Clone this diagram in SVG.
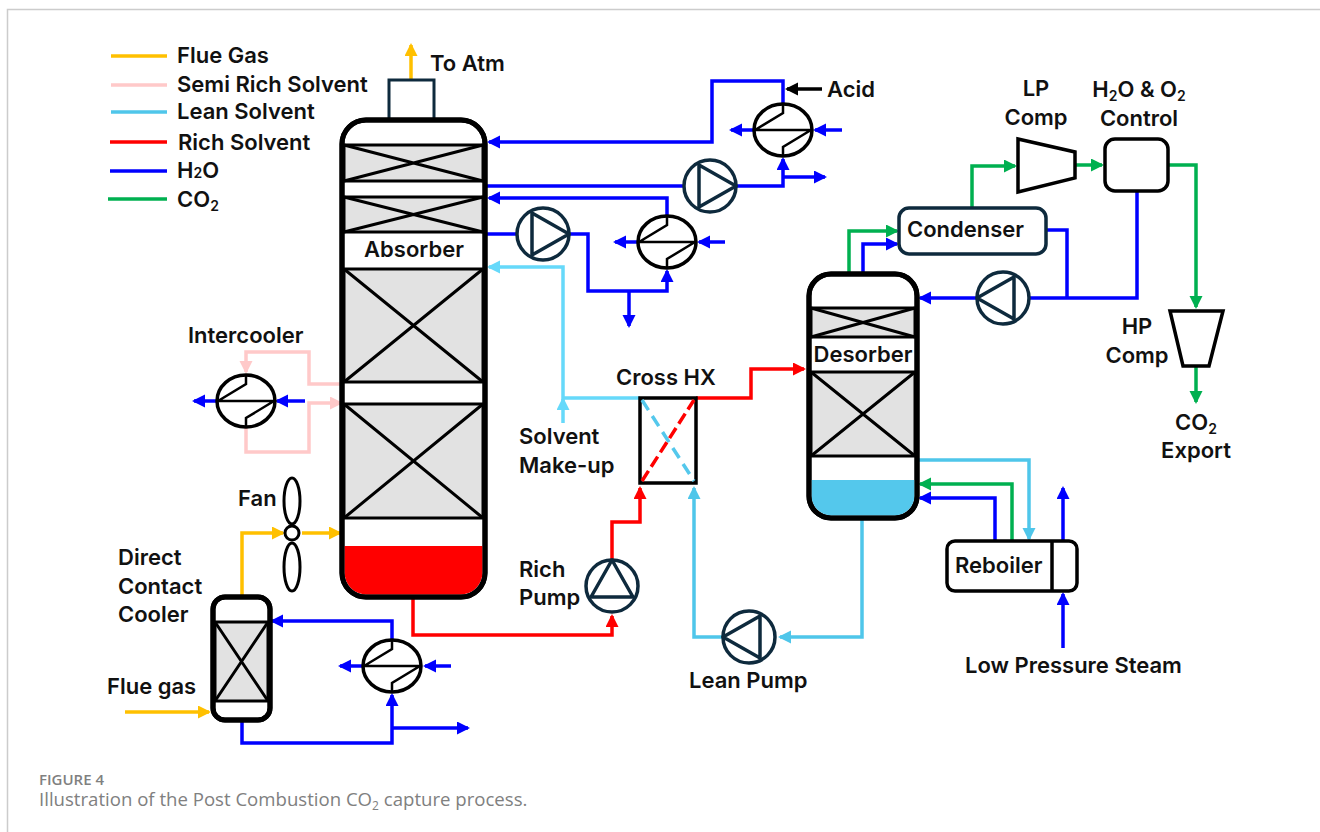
<svg xmlns="http://www.w3.org/2000/svg" xmlns:xlink="http://www.w3.org/1999/xlink" width="1320" height="832" viewBox="0 0 1320 832">
<style>
.t{font-family:Inter,"Liberation Sans",sans-serif;font-weight:600;font-size:22px;fill:#111}
.f{fill:none;stroke-width:3.5;stroke-linejoin:miter}
.fg{stroke:#ffc000}.pk{stroke:#ffc9c9}.ln{stroke:#4fc6ea}.lt{stroke:#66d9fa}.rd{stroke:#ff0000}.bl{stroke:#0000ff}.gr{stroke:#00b050}.bk{stroke:#000}
.v{fill:#fff;stroke:#000;stroke-width:5}
.pack{fill:#e2e2e2;stroke:#000;stroke-width:3}
.x{stroke:#000;stroke-width:3;fill:none}
.nv{fill:#fff;stroke:#0e2a3d;stroke-width:3.5;stroke-linejoin:round}
.b3{fill:#fff;stroke:#000;stroke-width:3.5}
</style>
<defs>
<marker id="afg" markerUnits="userSpaceOnUse" markerWidth="14" markerHeight="14" refX="11" refY="6.500" orient="auto"><path d="M0 0L13 6.500L0 13Z" fill="#ffc000"/></marker>
<marker id="apk" markerUnits="userSpaceOnUse" markerWidth="14" markerHeight="14" refX="11" refY="6.500" orient="auto"><path d="M0 0L13 6.500L0 13Z" fill="#ffc9c9"/></marker>
<marker id="aln" markerUnits="userSpaceOnUse" markerWidth="14" markerHeight="14" refX="11" refY="6.500" orient="auto"><path d="M0 0L13 6.500L0 13Z" fill="#4fc6ea"/></marker>
<marker id="alt" markerUnits="userSpaceOnUse" markerWidth="14" markerHeight="14" refX="11" refY="6.500" orient="auto"><path d="M0 0L13 6.500L0 13Z" fill="#66d9fa"/></marker>
<marker id="ard" markerUnits="userSpaceOnUse" markerWidth="14" markerHeight="14" refX="11" refY="6.500" orient="auto"><path d="M0 0L13 6.500L0 13Z" fill="#ff0000"/></marker>
<marker id="abl" markerUnits="userSpaceOnUse" markerWidth="14" markerHeight="14" refX="11" refY="6.500" orient="auto"><path d="M0 0L13 6.500L0 13Z" fill="#0000ff"/></marker>
<marker id="agr" markerUnits="userSpaceOnUse" markerWidth="14" markerHeight="14" refX="11" refY="6.500" orient="auto"><path d="M0 0L13 6.500L0 13Z" fill="#00b050"/></marker>
<marker id="abk" markerUnits="userSpaceOnUse" markerWidth="14" markerHeight="14" refX="11" refY="6.500" orient="auto"><path d="M0 0L13 6.500L0 13Z" fill="#000"/></marker>
<g id="hx"><ellipse rx="29" ry="26" fill="#fff" stroke="#000" stroke-width="3.500"/><path d="M-28 0H28M0 -25V-17L-28 0M0 25V17L28 0" fill="none" stroke="#000" stroke-width="2.500"/></g>
<g id="pump"><circle r="26" class="nv"/><path d="M-11 -21V21L26 0Z" class="nv" style="fill:none"/></g>
</defs>
<rect width="1320" height="832" fill="#fff"/>
<path d="M7.500 832V9.500H1320" fill="none" stroke="#ccc" stroke-width="1.500"/>

<g id="connectors">
<path class="f fg" d="M411 80V45" marker-end="url(#afg)"/>
<path class="f fg" d="M242 597V533H283" marker-end="url(#afg)"/>
<path class="f fg" d="M302 533H340" marker-end="url(#afg)"/>
<path class="f fg" d="M125 712H209" marker-end="url(#afg)"/>
<path class="f bl" d="M783 104V81H712V142H489" marker-end="url(#abl)"/>
<path class="f bk" d="M822 89H787" marker-end="url(#abk)"/>
<path class="f bl" d="M842 130H815" marker-end="url(#abl)"/>
<path class="f bl" d="M754 130H731" marker-end="url(#abl)"/>
<path class="f bl" d="M486 186H684"/>
<path class="f bl" d="M737 186H783V159" marker-end="url(#abl)"/>
<path class="f bl" d="M783 177H825" marker-end="url(#abl)"/>
<path class="f bl" d="M667 216V198H489" marker-end="url(#abl)"/>
<path class="f bl" d="M725 242H699" marker-end="url(#abl)"/>
<path class="f bl" d="M638 242H615" marker-end="url(#abl)"/>
<path class="f bl" d="M486 234H517"/>
<path class="f bl" d="M570 234H588V291H667V271" marker-end="url(#abl)"/>
<path class="f bl" d="M629 291V326" marker-end="url(#abl)"/>
<path class="f lt" d="M640 398H563V267H489" marker-end="url(#alt)"/>
<path class="f lt" d="M563 423V399" marker-end="url(#alt)"/>
<path class="f rd" d="M696 398H751V369H804" marker-end="url(#ard)"/>
<path class="f rd" d="M413 598V635H612V616" marker-end="url(#ard)"/>
<path class="f rd" d="M612 560V522H640V488" marker-end="url(#ard)"/>
<path class="f ln" d="M862 519V637H780" marker-end="url(#aln)"/>
<path class="f ln" d="M723 637H694V488" marker-end="url(#aln)"/>
<path class="f gr" d="M849 274V231H897" marker-end="url(#agr)"/>
<path class="f bl" d="M863 274V244H897" marker-end="url(#abl)"/>
<path class="f gr" d="M972 208V166H1015" marker-end="url(#agr)"/>
<path class="f gr" d="M1075 165H1102" marker-end="url(#agr)"/>
<path class="f gr" d="M1168 165H1196V307" marker-end="url(#agr)"/>
<path class="f gr" d="M1196 366V402" marker-end="url(#agr)"/>
<path class="f bl" d="M1046 230H1067V298"/>
<path class="f bl" d="M1137 191V298H1029"/>
<path class="f bl" d="M977 298H920" marker-end="url(#abl)"/>
<path class="f ln" d="M917 460H1029V539" marker-end="url(#aln)"/>
<path class="f gr" d="M1012 541V484H920" marker-end="url(#agr)"/>
<path class="f bl" d="M995 541V498H920" marker-end="url(#abl)"/>
<path class="f bl" d="M1063 541V488" marker-end="url(#abl)"/>
<path class="f bl" d="M1063 648V594" marker-end="url(#abl)"/>
<path class="f pk" d="M343 384H309V352H246V372" marker-end="url(#apk)"/>
<path class="f pk" d="M246 428V452H309V403H341" marker-end="url(#apk)"/>
<path class="f bl" d="M305 401H277" marker-end="url(#abl)"/>
<path class="f bl" d="M217 401H194" marker-end="url(#abl)"/>
<path class="f bl" d="M392 640V621H272" marker-end="url(#abl)"/>
<path class="f bl" d="M242 720V743H392V695" marker-end="url(#abl)"/>
<path class="f bl" d="M392 728H468" marker-end="url(#abl)"/>
<path class="f bl" d="M451 666H425" marker-end="url(#abl)"/>
<path class="f bl" d="M363 666H340" marker-end="url(#abl)"/>
</g>

<g id="legend">
<path class="f fg" d="M111 56H167"/><path class="f pk" d="M111 85H167"/><path class="f ln" d="M111 112H167"/><path class="f rd" d="M110 142H167"/><path class="f bl" d="M110 171H167"/><path class="f gr" d="M108 199H167"/>
<text class="t" x="177" y="63">Flue Gas</text>
<text class="t" x="177" y="92">Semi Rich Solvent</text>
<text class="t" x="177" y="119">Lean Solvent</text>
<text class="t" x="178" y="150">Rich Solvent</text>
<text class="t" x="177" y="178">H<tspan font-size="14">2</tspan>O</text>
<text class="t" x="177" y="207">CO<tspan font-size="14" dy="4">2</tspan></text>
</g>

<g id="absorber">
<rect x="389" y="80" width="45" height="40" fill="#fff" stroke="#0e2a3d" stroke-width="3"/>
<rect class="v" x="342" y="120" width="143" height="477" rx="24"/>
<path d="M344.500 546H482.500V572A22 22 0 0 1 460.500 594.500H366.500A22 22 0 0 1 344.500 572Z" fill="#ff0000"/>
<rect class="pack" x="344" y="145" width="139" height="36"/><path class="x" d="M344 145L483 181M483 145L344 181"/>
<rect class="pack" x="344" y="197" width="139" height="35"/><path class="x" d="M344 197L483 232M483 197L344 232"/>
<rect class="pack" x="344" y="269" width="139" height="113"/><path class="x" d="M344 269L483 382M483 269L344 382"/>
<rect class="pack" x="344" y="404" width="139" height="114"/><path class="x" d="M344 404L483 518M483 404L344 518"/>
<rect x="342" y="120" width="143" height="477" rx="24" fill="none" stroke="#000" stroke-width="5"/>
<text class="t" x="414" y="257" text-anchor="middle">Absorber</text>
<text class="t" x="430" y="71">To Atm</text>
</g>

<g id="desorber">
<rect class="v" x="809" y="274" width="108" height="244" rx="22"/>
<path d="M811.500 480H914.500V496A20 20 0 0 1 894.500 515.500H831.500A20 20 0 0 1 811.500 496Z" fill="#54c8ec"/>
<rect class="pack" x="811" y="308" width="104" height="29"/><path class="x" d="M811 308L915 337M915 308L811 337"/>
<rect class="pack" x="811" y="372" width="104" height="84"/><path class="x" d="M811 372L915 456M915 372L811 456"/>
<rect x="809" y="274" width="108" height="244" rx="22" fill="none" stroke="#000" stroke-width="5"/>
<text class="t" x="863" y="362" text-anchor="middle">Desorber</text>
</g>

<g id="dcc">
<rect class="v" x="213" y="597" width="57" height="123" rx="12"/>
<rect class="pack" x="215" y="622" width="53" height="79"/><path class="x" d="M215 622L268 701M268 622L215 701"/>
<rect x="213" y="597" width="57" height="123" rx="12" fill="none" stroke="#000" stroke-width="5"/>
<text class="t" x="118" y="565">Direct</text><text class="t" x="118" y="594">Contact</text><text class="t" x="118" y="622">Cooler</text>
<text class="t" x="107" y="694">Flue gas</text>
</g>

<g id="fan" fill="#fff" stroke="#000" stroke-width="3">
<ellipse cx="292" cy="501" rx="8" ry="23"/><ellipse cx="292" cy="567" rx="8" ry="24"/><circle cx="292" cy="533" r="7"/>
<text class="t" x="238" y="506" stroke="none">Fan</text>
</g>

<g id="hx-acid"><use xlink:href="#hx" href="#hx" x="783" y="130"/></g>
<g id="hx-wash"><use xlink:href="#hx" href="#hx" x="667" y="242"/></g>
<g id="hx-intercooler"><use xlink:href="#hx" href="#hx" x="246" y="401"/><text class="t" x="188" y="343">Intercooler</text></g>
<g id="hx-dcc"><use xlink:href="#hx" href="#hx" x="392" y="666"/></g>
<text class="t" x="827" y="97">Acid</text>

<g id="pump-1"><use xlink:href="#pump" href="#pump" x="710" y="186"/></g>
<g id="pump-2"><use xlink:href="#pump" href="#pump" x="543" y="234"/></g>
<g id="pump-rich"><use xlink:href="#pump" href="#pump" transform="translate(612 586) rotate(-90)"/><text class="t" x="519" y="577">Rich</text><text class="t" x="519" y="605">Pump</text></g>
<g id="pump-lean"><use xlink:href="#pump" href="#pump" transform="translate(749 637) rotate(180)"/><text class="t" x="689" y="688">Lean Pump</text></g>
<g id="pump-cond"><use xlink:href="#pump" href="#pump" transform="translate(1003 298) rotate(180)"/></g>

<g id="cross-hx">
<rect x="640" y="398" width="56" height="85" fill="#fff" stroke="#000" stroke-width="3.500"/>
<path d="M642 400L694 481" stroke="#54c8ec" stroke-width="3.500" stroke-dasharray="12 7" fill="none"/>
<path d="M642 481L694 400" stroke="#ff0000" stroke-width="3.500" stroke-dasharray="12 5" fill="none"/>
<text class="t" x="616" y="385">Cross HX</text>
<text class="t" x="519" y="444">Solvent</text><text class="t" x="519" y="473">Make-up</text>
</g>

<g id="condenser"><rect x="899" y="208" width="147" height="46" rx="10" fill="#fff" stroke="#0e2a3d" stroke-width="3.500"/><text class="t" x="907" y="237">Condenser</text></g>
<g id="lp-comp"><path class="b3" d="M1018 139L1075 152V178L1018 192Z"/><text class="t" x="1036" y="96" text-anchor="middle">LP</text><text class="t" x="1036" y="125" text-anchor="middle">Comp</text></g>
<g id="control"><rect class="b3" x="1105" y="139" width="63" height="52" rx="10"/><text class="t" x="1139" y="97" text-anchor="middle">H<tspan font-size="14" dy="4">2</tspan><tspan dy="-4">O &amp; O</tspan><tspan font-size="14" dy="4">2</tspan></text><text class="t" x="1139" y="126" text-anchor="middle">Control</text></g>
<g id="hp-comp"><path class="b3" d="M1170 311H1223L1209 366H1183Z"/><text class="t" x="1137" y="334" text-anchor="middle">HP</text><text class="t" x="1137" y="363" text-anchor="middle">Comp</text></g>
<text class="t" x="1196" y="430" text-anchor="middle">CO<tspan font-size="14" dy="4">2</tspan></text>
<text class="t" x="1196" y="458" text-anchor="middle">Export</text>
<g id="reboiler"><rect class="b3" x="947" y="541" width="130" height="50" rx="8"/><path d="M1052 541V591" stroke="#000" stroke-width="3.500"/><text class="t" x="955" y="573">Reboiler</text></g>
<text class="t" x="965" y="673">Low Pressure Steam</text>

<g id="caption" font-family="'Open Sans',Lato,sans-serif" fill="#808080">
<text x="39" y="785" font-size="15" font-weight="600">FIGURE 4</text>
<text x="39" y="805.500" font-size="18.600">Illustration of the Post Combustion CO<tspan font-size="12" dy="4">2</tspan><tspan dy="-4"> capture process.</tspan></text>
</g>
</svg>
